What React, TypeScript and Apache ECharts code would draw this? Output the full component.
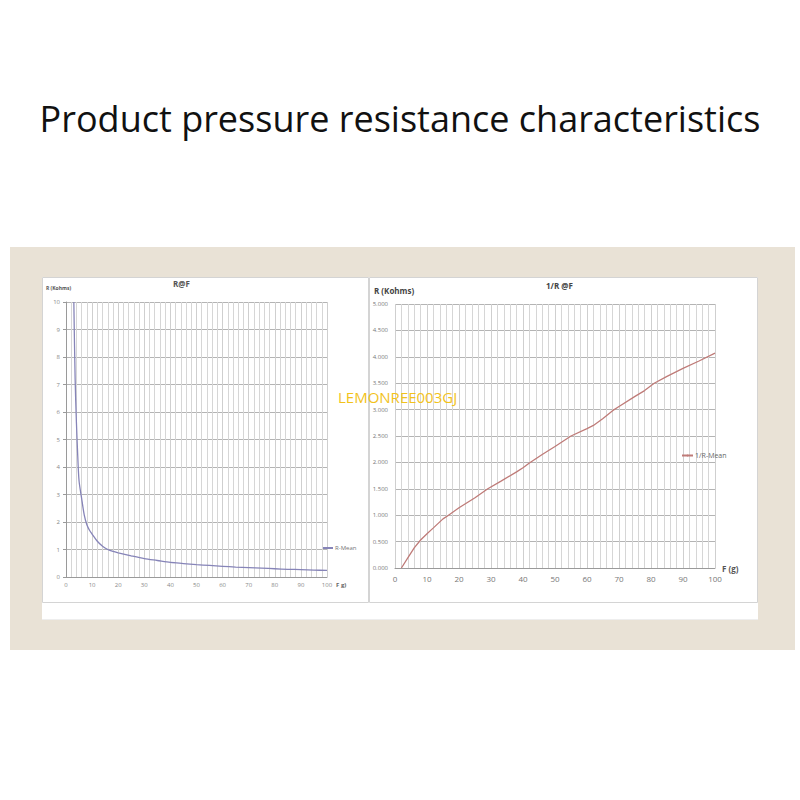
import React, { useEffect, useRef } from "react";
import * as echarts from "echarts";

const F_LEFT = [3, 3.5, 4, 4.5, 5, 6, 7, 8, 9, 10, 12, 14, 16, 18, 20, 25, 30, 35, 40, 45, 50, 55, 60, 65, 70, 75, 80, 85, 90, 95, 100];
const R_MEAN = [10, 7.2, 5.6, 4.4, 3.5, 2.85, 2.25, 1.9, 1.7, 1.56, 1.3, 1.12, 1.0, 0.93, 0.88, 0.77, 0.67, 0.6, 0.53, 0.49, 0.45, 0.42, 0.39, 0.36, 0.34, 0.32, 0.3, 0.28, 0.27, 0.25, 0.24];

const F_RIGHT = [2, 4, 6, 8, 10, 12, 15, 16.5, 20, 25, 29, 33, 38, 40, 42, 46, 50, 55, 60, 62, 65, 68, 70, 75, 78, 81, 85, 90, 95, 100];
const INV_R_MEAN = [0, 0.19, 0.38, 0.53, 0.65, 0.76, 0.93, 0.99, 1.14, 1.33, 1.5, 1.64, 1.82, 1.9, 1.99, 2.15, 2.3, 2.5, 2.64, 2.7, 2.83, 2.98, 3.06, 3.25, 3.36, 3.5, 3.63, 3.78, 3.92, 4.07];

const MAIN_TITLE = "Product pressure resistance characteristics";
const LEFT_TITLE = "R@F";
const RIGHT_TITLE = "1/R @F";
const LEFT_SERIES = "R-Mean";
const RIGHT_SERIES = "1/R-Mean";
const Y_NAME = "R (Kohms)";
const LEFT_X_NAME = "F g)";
const RIGHT_X_NAME = "F (g)";
const WATERMARK = "LEMONREE003GJ";

const FONT = "'Open Sans', 'Noto Sans', sans-serif";
const LEFT_COLOR = "#8684b8";
const RIGHT_COLOR = "#bf7b78";

export default function App() {
  const ref = useRef<HTMLDivElement>(null);
  useEffect(() => {
    document.body.style.margin = "0";
    const chart = echarts.init(ref.current!, null, { renderer: "svg" });
    const leftData = F_LEFT.map((f, i) => [f, R_MEAN[i]]);
    const rightData = F_RIGHT.map((f, i) => [f, INV_R_MEAN[i]]);
    const axisLine = { show: true, lineStyle: { color: "#9a9a9a", width: 1 } };
    const commonX = {
      type: "value" as const,
      min: 0,
      max: 100,
      interval: 10,
      axisLine,
      axisTick: { show: false },
      splitLine: { show: true, lineStyle: { color: "#cfcfcf", width: 1 } },
      minorTick: { show: false, splitNumber: 5 },
      minorSplitLine: { show: true, lineStyle: { color: "#d6d6d6", width: 1 } },
    };
    chart.setOption({
      animation: false,
      backgroundColor: "#ffffff",
      textStyle: { fontFamily: FONT },
      title: [
        {
          text: MAIN_TITLE,
          left: "center",
          top: 95,
          textStyle: { fontFamily: FONT, fontSize: 36, fontWeight: "normal", color: "#111111" },
        },
        {
          text: LEFT_TITLE,
          left: 173,
          top: 279,
          padding: 0,
          textStyle: { fontFamily: FONT, fontSize: 8, fontWeight: "bold", color: "#555555" },
        },
        {
          text: RIGHT_TITLE,
          left: 546,
          top: 281,
          padding: 0,
          textStyle: { fontFamily: FONT, fontSize: 8, fontWeight: "bold", color: "#444444" },
        },
      ],
      legend: [
        {
          data: [LEFT_SERIES],
          left: 322,
          top: 545,
          padding: 0,
          itemWidth: 10,
          itemHeight: 2,
          itemGap: 2,
          textStyle: { fontSize: 6, color: "#777777", padding: [0, 0, 0, -3] },
        },
        {
          data: [RIGHT_SERIES],
          left: 681,
          top: 452,
          padding: 0,
          itemWidth: 11,
          itemHeight: 2,
          itemGap: 2,
          textStyle: { fontSize: 7, color: "#666666", padding: [0, 0, 0, -3] },
        },
      ],
      grid: [
        { left: 66, width: 261, top: 302, height: 275 },
        { left: 395, width: 320, top: 304, height: 264 },
      ],
      xAxis: [
        {
          ...commonX,
          gridIndex: 0,
          name: LEFT_X_NAME,
          nameLocation: "end",
          nameGap: 7,
          nameTextStyle: { fontSize: 6, fontWeight: "bold", color: "#666666", verticalAlign: "top", padding: [5, 0, 0, 0] },
          axisLabel: { fontSize: 6, color: "#888888", margin: 5 },
        },
        {
          ...commonX,
          gridIndex: 1,
          name: RIGHT_X_NAME,
          nameLocation: "end",
          nameGap: 7,
          nameTextStyle: { fontSize: 8, fontWeight: "bold", color: "#555555", verticalAlign: "bottom", padding: [0, 0, -4, 0] },
          axisLabel: { fontSize: 8, color: "#777777", margin: 6 },
        },
      ],
      yAxis: [
        {
          type: "value",
          gridIndex: 0,
          min: 0,
          max: 10,
          interval: 1,
          name: Y_NAME,
          nameLocation: "end",
          nameGap: 12,
          nameTextStyle: { fontSize: 5, fontWeight: "bold", color: "#555555", align: "left", padding: [0, 0, 0, -20] },
          axisLine,
          axisTick: { show: true, length: 3, lineStyle: { color: "#9a9a9a" } },
          axisLabel: { fontSize: 6, color: "#888888", margin: 6 },
          splitLine: { show: true, lineStyle: { color: "#b4b4b4", width: 1 } },
        },
        {
          type: "value",
          gridIndex: 1,
          min: 0,
          max: 5,
          interval: 0.5,
          name: Y_NAME,
          nameLocation: "end",
          nameGap: 10,
          nameTextStyle: { fontSize: 8, fontWeight: "bold", color: "#444444", align: "left", padding: [0, 0, 0, -21] },
          axisLine: { show: false },
          axisTick: { show: false },
          axisLabel: {
            fontSize: 6,
            color: "#777777",
            margin: 7,
            formatter: (v: number) => v.toFixed(3),
          },
          splitLine: { show: true, lineStyle: { color: "#b4b4b4", width: 1 } },
        },
      ],
      series: [
        {
          name: LEFT_SERIES,
          type: "line",
          xAxisIndex: 0,
          yAxisIndex: 0,
          data: leftData,
          symbol: "none",
          smooth: 0.3,
          clip: true,
          lineStyle: { color: LEFT_COLOR, width: 1.3 },
          itemStyle: { color: LEFT_COLOR },
        },
        {
          name: RIGHT_SERIES,
          type: "line",
          xAxisIndex: 1,
          yAxisIndex: 1,
          data: rightData,
          symbol: "none",
          clip: true,
          lineStyle: { color: RIGHT_COLOR, width: 1.3 },
          itemStyle: { color: RIGHT_COLOR },
        },
      ],
      graphic: [
        { type: "rect", z: -20, silent: true, shape: { x: 10, y: 247, width: 785, height: 403 }, style: { fill: "#e9e2d6" } },
        { type: "rect", z: -19, silent: true, shape: { x: 42, y: 277, width: 716, height: 343 }, style: { fill: "#ffffff" } },
        { type: "rect", z: -18, silent: true, shape: { x: 42.5, y: 277.5, width: 326, height: 325 }, style: { fill: "#ffffff", stroke: "#d4d4d4", lineWidth: 1 } },
        { type: "rect", z: -18, silent: true, shape: { x: 369.5, y: 277.5, width: 388, height: 325 }, style: { fill: "#ffffff", stroke: "#d4d4d4", lineWidth: 1 } },
        { type: "line", z: -17, silent: true, shape: { x1: 42, y1: 619.5, x2: 758, y2: 619.5 }, style: { stroke: "#eeeeee", lineWidth: 1 } },
        {
          type: "text",
          z: 100,
          silent: true,
          x: 338,
          y: 389,
          style: { text: WATERMARK, fontSize: 15, fontFamily: FONT, fill: "#f2c21b" },
        },
      ],
    });
    return () => chart.dispose();
  }, []);
  return <div ref={ref} style={{ width: 800, height: 800 }} />;
}
